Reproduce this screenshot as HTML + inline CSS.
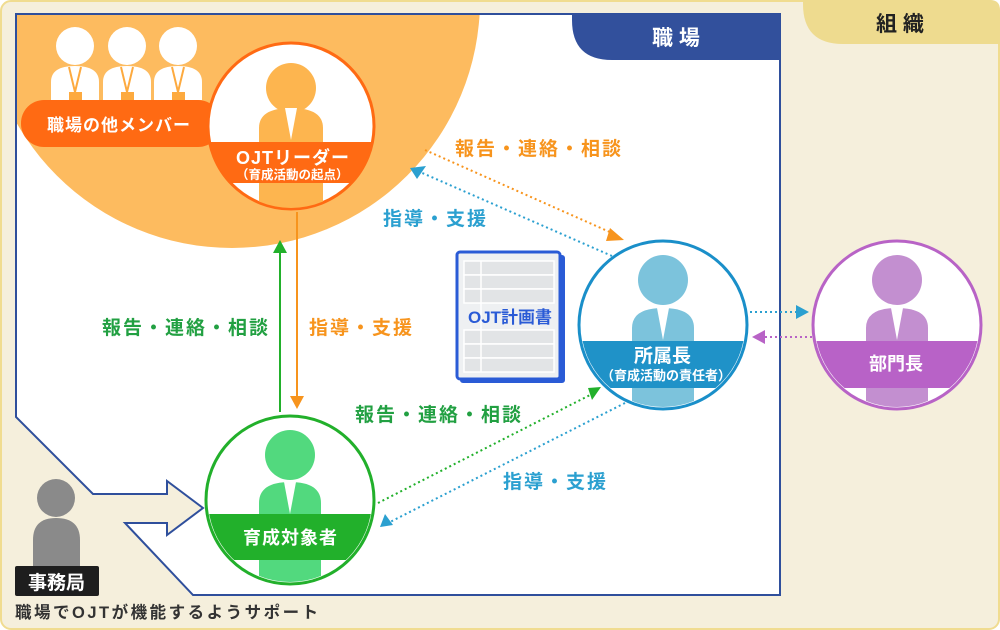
<!DOCTYPE html>
<html><head><meta charset="utf-8"><style>
html,body{margin:0;padding:0;background:#fff}
svg{display:block}
text{font-family:"Liberation Sans","Noto Sans CJK JP",sans-serif;font-weight:bold}
</style></head><body>
<svg width="1000" height="630" viewBox="0 0 1000 630" xmlns="http://www.w3.org/2000/svg">
<defs>
<clipPath id="wp"><rect x="17" y="15" width="762" height="580"/></clipPath>
<clipPath id="c1"><circle cx="291" cy="126" r="82"/></clipPath>
<clipPath id="c2"><circle cx="290" cy="500" r="82"/></clipPath>
<clipPath id="c3"><circle cx="663" cy="325" r="82"/></clipPath>
<clipPath id="c4"><circle cx="897" cy="325" r="82"/></clipPath>
</defs>
<rect x="1" y="1" width="998" height="628" rx="10" fill="#f5efdc" stroke="#f0dc90" stroke-width="2"/>
<path d="M803 0 H990 Q1000 0 1000 10 V44 H843 Q803 44 803 4 Z" fill="#eedb8f"/>
<text x="876" y="31" font-size="21" fill="#222">組 織</text>
<path d="M16 14 H780 V595 H193 L125 523 H167 V535 L203 508 L167 481 V494 H93 L16 417 Z" fill="#fff" stroke="#2f4f9c" stroke-width="2"/>
<ellipse cx="232" cy="0" rx="248" ry="248" fill="#fdbb5f" clip-path="url(#wp)"/>
<path d="M572 14 H780 V60 H612 Q572 60 572 20 Z" fill="#32509c"/>
<text x="652" y="45" font-size="21" fill="#fff">職 場</text>
<g fill="#fff">
<circle cx="75" cy="46" r="19"/><path d="M51 100 V82 Q51 66 75 66 Q99 66 99 82 V100Z"/>
<circle cx="127" cy="46" r="19"/><path d="M103 100 V82 Q103 66 127 66 Q151 66 151 82 V100Z"/>
<circle cx="178" cy="46" r="19"/><path d="M154 100 V82 Q154 66 178 66 Q202 66 202 82 V100Z"/>
</g>
<g stroke="#fdaa3f" stroke-width="2" fill="none">
<path d="M69 67 L75 92 L81 67"/><path d="M121 67 L127 92 L133 67"/><path d="M172 67 L178 92 L184 67"/>
</g>
<g fill="#fdaa3f"><rect x="69" y="92" width="13" height="8"/><rect x="121" y="92" width="13" height="8"/><rect x="172" y="92" width="13" height="8"/></g>
<rect x="21" y="100" width="200" height="47" rx="23" fill="#ff6a13"/>
<text x="47" y="131" font-size="17" letter-spacing="1" fill="#fff">職場の他メンバー</text>
<circle cx="291" cy="126" r="83" fill="#fff" stroke="#ff6a13" stroke-width="3"/>
<g clip-path="url(#c1)">
<circle cx="291" cy="88" r="25" fill="#fdb54f"/>
<path d="M259 215 V128 Q259 108 291 108 Q323 108 323 128 V215Z" fill="#fdb54f"/>
<path d="M285 108 L291 140 L297 108Z" fill="#fff"/>
<rect x="200" y="142" width="200" height="41" fill="#ff6a13"/>
</g>
<text x="236" y="164" font-size="18" letter-spacing="1" fill="#fff">OJTリーダー</text>
<text x="236" y="179" font-size="12.5" fill="#fff">（育成活動の起点）</text>
<line x1="280" y1="412" x2="280" y2="250" stroke="#22b02b" stroke-width="2"/>
<path d="M273 253 L280 240 L287 253Z" fill="#22b02b"/>
<line x1="297" y1="212" x2="297" y2="398" stroke="#f7941d" stroke-width="2"/>
<path d="M290 396 L297 409 L304 396Z" fill="#f7941d"/>
<g font-size="19" letter-spacing="2">
<text x="102" y="334" fill="#22a042">報告・連絡・相談</text>
<text x="309" y="334" fill="#f7941d">指導・支援</text>
<text x="455" y="155" fill="#f7941d">報告・連絡・相談</text>
<text x="383" y="225" fill="#2ba0d0">指導・支援</text>
<text x="355" y="421" fill="#22a042">報告・連絡・相談</text>
<text x="503" y="488" fill="#2ba0d0">指導・支援</text>
</g>
<g stroke-width="2" stroke-dasharray="2 3" fill="none">
<line x1="425" y1="150" x2="612" y2="233" stroke="#f7941d"/>
<line x1="612" y1="256" x2="420" y2="172" stroke="#2ba0d0"/>
<line x1="378" y1="503" x2="592" y2="394" stroke="#22b02b"/>
<line x1="625" y1="403" x2="390" y2="522" stroke="#2ba0d0"/>
<line x1="750" y1="312" x2="798" y2="312" stroke="#2ba0d0"/>
<line x1="812" y1="337" x2="762" y2="337" stroke="#b863c6"/>
</g>
<path d="M610 228 L624 240 L606 241Z" fill="#f7941d"/>
<path d="M410 168 L426 166 L417 179Z" fill="#2ba0d0"/>
<path d="M588 388 L601 387 L592 400Z" fill="#22b02b"/>
<path d="M380 527 L385 514 L393 525Z" fill="#2ba0d0"/>
<path d="M796 305 L809 312 L796 319Z" fill="#2ba0d0"/>
<path d="M765 330 L752 337 L765 344Z" fill="#b863c6"/>
<rect x="460" y="255" width="105" height="128" rx="3" fill="#2a5bd6"/>
<rect x="457" y="252" width="103" height="127" rx="3" fill="#eef0f2" stroke="#2a5bd6" stroke-width="3"/>
<g fill="#e2e4e6" stroke="#fff" stroke-width="1.5">
<rect x="464" y="261" width="90" height="14"/><rect x="464" y="275" width="90" height="14"/><rect x="464" y="289" width="90" height="14"/>
<rect x="464" y="330" width="90" height="14"/><rect x="464" y="344" width="90" height="14"/><rect x="464" y="358" width="90" height="14"/>
<line x1="481" y1="261" x2="481" y2="372"/>
</g>
<text x="510" y="323" font-size="17" fill="#2a5bd6" text-anchor="middle">OJT計画書</text>
<circle cx="663" cy="325" r="84" fill="#fff" stroke="#1a8fc9" stroke-width="3"/>
<g clip-path="url(#c3)">
<circle cx="663" cy="280" r="25" fill="#7cc3dc"/>
<path d="M632 415 V328 Q632 308 663 308 Q694 308 694 328 V415Z" fill="#7cc3dc"/>
<path d="M657 308 L663 340 L669 308Z" fill="#fff"/>
<rect x="570" y="341" width="190" height="47" fill="#1f92c8"/>
</g>
<text x="634" y="362" font-size="19" fill="#fff">所属長</text>
<text x="601" y="380" font-size="13" fill="#fff">（育成活動の責任者）</text>
<circle cx="897" cy="325" r="84" fill="#fff" stroke="#b863c6" stroke-width="3"/>
<g clip-path="url(#c4)">
<circle cx="897" cy="280" r="25" fill="#c38fd0"/>
<path d="M866 415 V328 Q866 308 897 308 Q928 308 928 328 V415Z" fill="#c38fd0"/>
<path d="M891 308 L897 340 L903 308Z" fill="#fff"/>
<rect x="800" y="341" width="190" height="47" fill="#b862c7"/>
</g>
<text x="869" y="370" font-size="18" fill="#fff">部門長</text>
<circle cx="290" cy="500" r="84" fill="#fff" stroke="#22b02b" stroke-width="3"/>
<g clip-path="url(#c2)">
<circle cx="290" cy="455" r="25" fill="#52d97e"/>
<path d="M259 590 V503 Q259 482 290 482 Q321 482 321 503 V590Z" fill="#52d97e"/>
<path d="M284 482 L290 514 L296 482Z" fill="#fff"/>
<rect x="200" y="514" width="190" height="46" fill="#22b02b"/>
</g>
<text x="243" y="544" font-size="18" letter-spacing="1" fill="#fff">育成対象者</text>
<circle cx="56" cy="498" r="19" fill="#8a8a8a"/>
<path d="M33 570 V540 Q33 518 56 518 Q80 518 80 540 V570Z" fill="#8a8a8a"/>
<rect x="15" y="566" width="84" height="30" rx="2" fill="#1e1e1e"/>
<text x="28" y="589" font-size="19" fill="#fff">事務局</text>
<text x="15" y="618" font-size="16.5" letter-spacing="2.5" fill="#333">職場でOJTが機能するようサポート</text>
</svg>
</body></html>
